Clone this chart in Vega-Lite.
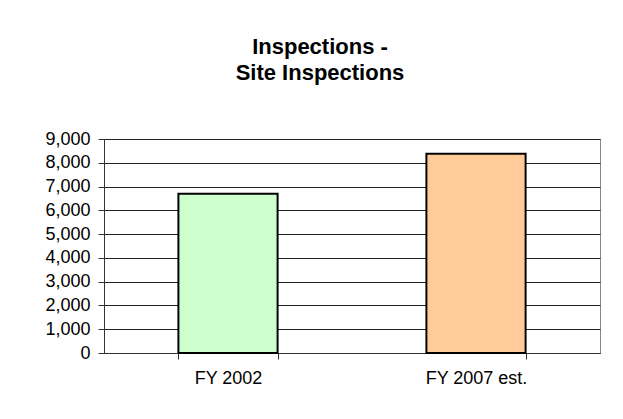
{
  "$schema": "https://vega.github.io/schema/vega-lite/v6.json",
  "autosize": "none",
  "width": 496,
  "height": 214,
  "padding": {"left": 104, "top": 139, "right": 23, "bottom": 66},
  "background": "white",
  "title": {
    "text": ["Inspections -", "Site Inspections"],
    "font": "Liberation Sans",
    "fontSize": 22,
    "fontWeight": "bold",
    "color": "black",
    "lineHeight": 26,
    "anchor": "middle",
    "dx": -32,
    "offset": 45
  },
  "data": {
    "values": [
      {"year": "FY 2002", "inspections": 6700},
      {"year": "FY 2007 est.", "inspections": 8380}
    ]
  },
  "mark": {"type": "bar", "stroke": "black", "strokeWidth": 2},
  "encoding": {
    "x": {
      "field": "year",
      "type": "nominal",
      "sort": null,
      "scale": {"paddingInner": 0.6, "paddingOuter": 0.3},
      "axis": {
        "title": null,
        "labelAngle": 0,
        "labelFont": "Liberation Sans",
        "labelFontSize": 18,
        "labelColor": "black",
        "labelPadding": 10,
        "tickBand": "extent",
        "tickSize": 6,
        "tickColor": "#333",
        "domainColor": "#333",
        "grid": false
      }
    },
    "y": {
      "field": "inspections",
      "type": "quantitative",
      "scale": {"domain": [0, 9000]},
      "axis": {
        "title": null,
        "values": [0, 1000, 2000, 3000, 4000, 5000, 6000, 7000, 8000, 9000],
        "format": ",d",
        "labelFont": "Liberation Sans",
        "labelFontSize": 18,
        "labelColor": "black",
        "labelPadding": 8,
        "tickSize": 6,
        "tickColor": "#333",
        "domainColor": "#333",
        "gridColor": "#222",
        "gridOpacity": 1
      }
    },
    "color": {
      "field": "year",
      "type": "nominal",
      "scale": {"domain": ["FY 2002", "FY 2007 est."], "range": ["#CCFFCC", "#FFCC99"]},
      "legend": null
    }
  },
  "config": {
    "view": {"stroke": "#888"}
  }
}
